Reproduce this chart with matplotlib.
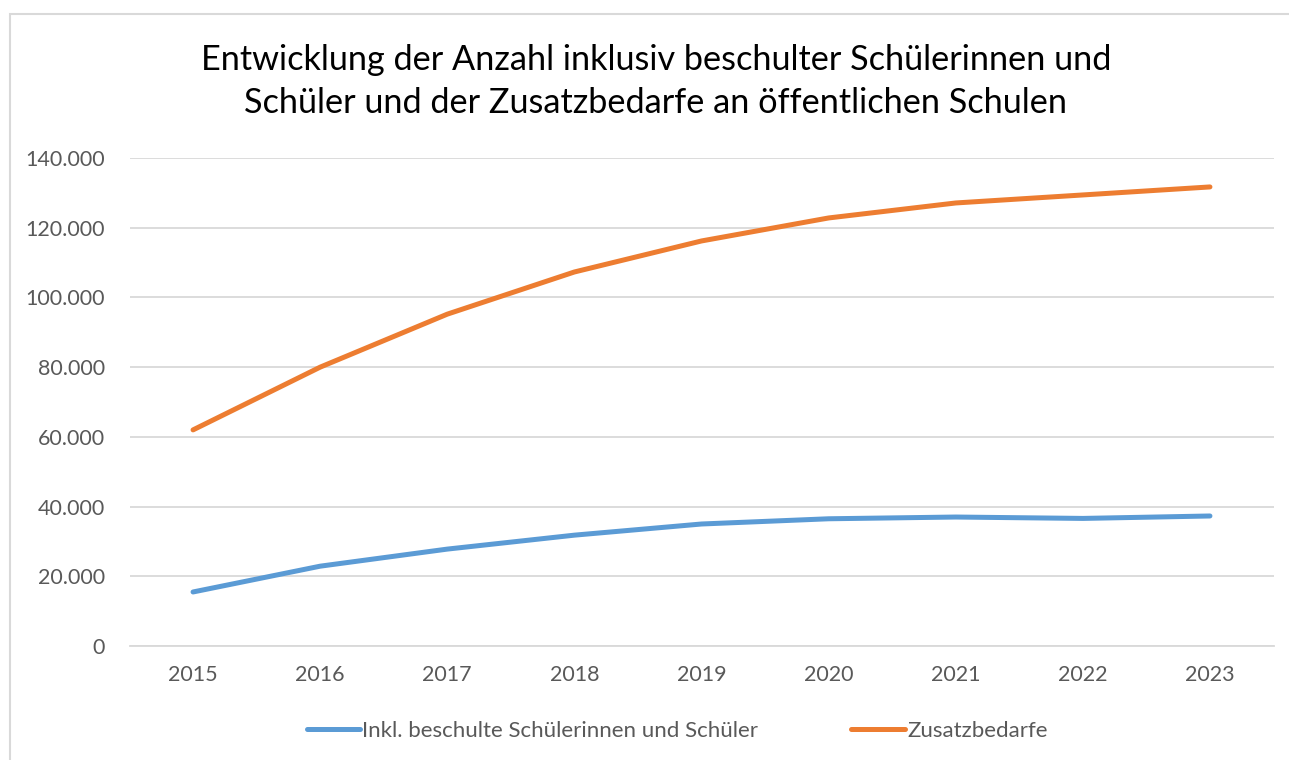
import matplotlib.pyplot as plt
from matplotlib.ticker import FuncFormatter
from matplotlib.patches import Rectangle

years = [2015, 2016, 2017, 2018, 2019, 2020, 2021, 2022, 2023]
inklusiv = [15500, 22900, 27800, 31800, 35000, 36500, 37000, 36600, 37300]
zusatzbedarfe = [62000, 80000, 95200, 107300, 116200, 122800, 127100, 129400, 131700]

plt.rcParams['font.family'] = ['Lato', 'DejaVu Sans']

fig = plt.figure(figsize=(12.89, 7.60), dpi=100)
fig.patches.append(Rectangle((10 / 1289, -0.01), 1.02, 1 - 14 / 760 + 0.01,
                             transform=fig.transFigure, fill=False,
                             edgecolor='#d9d9d9', linewidth=1.5))

ax = fig.add_axes([129.5 / 1289, 1 - 646 / 760, 1144 / 1289, 488 / 760])
x = list(range(len(years)))
ax.plot(x, inklusiv, color='#5B9BD5', linewidth=3.6, solid_capstyle='round',
        label='Inkl. beschulte Schülerinnen und Schüler')
ax.plot(x, zusatzbedarfe, color='#ED7D31', linewidth=3.6, solid_capstyle='round',
        label='Zusatzbedarfe')

ax.set_xlim(-0.5, len(years) - 0.5)
ax.set_ylim(0, 140000)
ax.set_yticks(range(0, 140001, 20000))
ax.yaxis.set_major_formatter(FuncFormatter(lambda v, p: f'{int(v):,}'.replace(',', '.')))
ax.set_xticks(x)
ax.set_xticklabels([str(y) for y in years])
ax.grid(axis='y', color='#d9d9d9', linewidth=1.3)
ax.set_axisbelow(True)
for s in ['top', 'right', 'left']:
    ax.spines[s].set_visible(False)
ax.spines['bottom'].set_color('#d9d9d9')
ax.spines['bottom'].set_linewidth(1.3)
ax.tick_params(axis='both', length=0, labelsize=15.5, colors='#595959')
ax.tick_params(axis='y', pad=17.5)
ax.tick_params(axis='x', pad=14)

fig.text(656 / 1289, 1 - 60 / 760, 'Entwicklung der Anzahl inklusiv beschulter Schülerinnen und',
         ha='center', va='center', fontsize=24.7, color='#000000')
fig.text(656 / 1289, 1 - 103 / 760, 'Schüler und der Zusatzbedarfe an öffentlichen Schulen',
         ha='center', va='center', fontsize=24.7, color='#000000')

leg = fig.legend(loc='center', bbox_to_anchor=(677 / 1289, 1 - 731 / 760), ncol=2,
                 frameon=False, fontsize=16, handlelength=2.4, handletextpad=0.1,
                 columnspacing=4.2)
for t in leg.get_texts():
    t.set_color('#595959')

fig.savefig('out.png', dpi=100)
